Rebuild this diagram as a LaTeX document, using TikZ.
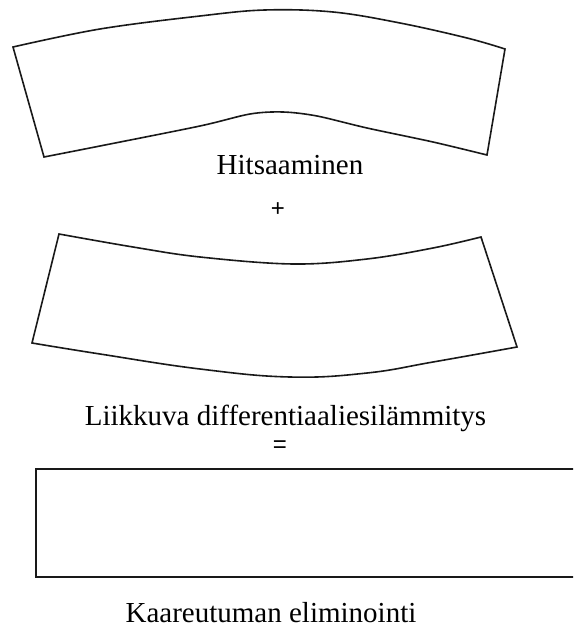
\documentclass[tikz,border=0pt]{standalone}
\usepackage{fontspec}
\setmainfont{Liberation Serif}
\newfontfamily\signfont{Liberation Sans}
\begin{document}
\begin{tikzpicture}[x=1pt, y=-1pt,
  plate/.style={draw=black!90, line width=1.6pt, line join=miter},
  caption/.style={font=\fontsize{29}{34}\selectfont, anchor=base, inner sep=0pt},
  sign/.style={font=\signfont\fontsize{24}{26}\selectfont, inner sep=0pt}]
\useasboundingbox (0,0) rectangle (573,628);

% welded beam, bent upwards
\draw[plate] plot[smooth, tension=0.6] coordinates
    {(13,47) (100,29) (200,16) (265,10) (333,12) (400,23) (467,38) (505,49)}
  -- (487,155)
  -- plot[smooth, tension=0.5] coordinates
    {(487,155) (433,142) (367,128) (317,116) (283,112) (250,114) (200,126) (100,146) (44,157)}
  -- cycle;
\node[caption] (weld) at (290,175) {Hitsaaminen};
\node[sign] (plus) at (278,210) {+};

% preheated beam, bent downwards
\draw[plate] plot[smooth, tension=0.6] coordinates
    {(59,234) (133,247) (200,257) (293,264) (367,259) (433,248) (481,237)}
  -- (517,347)
  -- plot[smooth, tension=0.7] coordinates
    {(517,347) (433,362) (367,373) (290,377) (200,369) (100,354) (32,343)}
  -- cycle;
\node[caption] (heat) at (285.5,425) {Liikkuva differentiaaliesilämmitys};
\node[sign] (equals) at (280,447) {=};

% straight result
\begin{scope}
  \clip (0,0) rectangle (573,628);
  \draw[plate] (600,469) -- (36,469) -- (36,577) -- (600,577);
\end{scope}
\node[caption] (result) at (271,622) {Kaareutuman eliminointi};
\end{tikzpicture}
\end{document}
